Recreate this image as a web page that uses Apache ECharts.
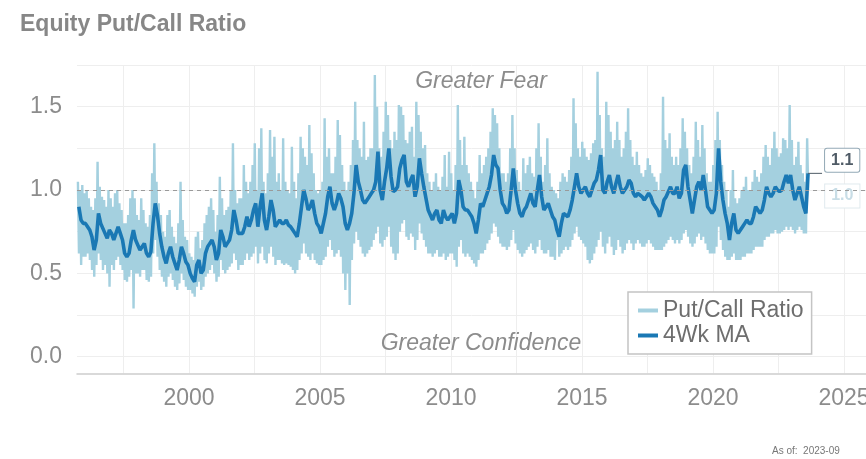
<!DOCTYPE html>
<html><head><meta charset="utf-8">
<script src="https://cdn.jsdelivr.net/npm/echarts@6/dist/echarts.min.js"></script>
<style>html,body{margin:0;padding:0;background:#fff}#c{width:866px;height:459px}</style>
</head><body><div id="c"></div>
<script>
// monthly series, starting Oct 1995
const startYear = 1995, startMonth = 10;
const ratioHigh = [
1.05,1.00,1.03,
0.98,1.00,0.95,0.90,0.88,0.95,1.17,1.02,0.96,0.94,0.90,1.00,
0.95,0.90,0.98,1.00,0.92,0.88,0.80,0.80,0.85,0.95,1.00,0.95,
0.85,0.82,0.95,0.88,0.80,0.78,0.85,1.10,1.28,1.05,0.92,0.85,
0.75,0.72,0.85,0.88,0.78,0.72,0.68,0.80,1.05,0.82,0.72,0.70,
0.62,0.60,0.58,0.72,0.75,0.65,0.70,0.80,0.85,0.90,0.95,0.88,
0.75,0.85,1.08,0.95,0.85,0.88,0.90,1.00,1.28,1.00,0.92,0.95,
0.95,1.15,1.05,0.98,1.05,1.15,1.28,1.00,1.25,1.37,1.05,0.98,
1.10,1.36,1.20,1.32,1.05,1.10,1.00,1.31,1.05,1.00,0.98,1.26,
1.05,0.95,1.10,1.32,1.25,1.20,1.15,1.39,1.22,1.10,1.00,0.98,
1.00,1.05,1.43,1.20,1.25,1.10,1.10,1.20,1.42,1.33,1.15,1.05,
1.00,1.05,1.15,1.30,1.53,1.30,1.25,1.20,1.41,1.18,1.20,1.25,
1.25,1.69,1.50,1.25,1.20,1.35,1.53,1.45,1.30,1.25,1.35,1.30,
1.51,1.50,1.45,1.30,1.28,1.35,1.38,1.20,1.53,1.45,1.35,1.25,
1.27,1.10,1.05,1.00,1.05,1.10,1.02,1.00,1.08,1.21,1.02,1.23,
1.10,1.00,1.15,1.51,1.30,1.15,1.32,1.15,1.10,1.05,1.00,0.95,
1.05,1.21,1.10,1.15,1.20,1.25,1.35,1.49,1.45,1.40,1.25,1.10,
1.10,1.05,1.10,1.25,1.45,1.25,1.12,1.05,1.00,1.19,1.10,1.15,
1.20,1.10,1.08,1.25,1.40,1.20,1.05,1.15,1.31,1.10,1.02,1.00,
0.98,0.95,1.05,1.10,1.08,1.05,1.12,1.20,1.55,1.40,1.25,1.20,
1.29,1.25,1.20,1.18,1.22,1.28,1.30,1.71,1.45,1.25,1.20,1.53,
1.45,1.35,1.25,1.30,1.41,1.30,1.20,1.25,1.35,1.49,1.30,1.20,
1.15,1.23,1.15,1.10,1.08,1.12,1.19,1.15,1.10,1.08,1.05,1.00,
1.10,1.56,1.30,1.25,1.34,1.20,1.15,1.20,1.15,1.25,1.43,1.35,
1.25,1.15,1.10,1.20,1.41,1.30,1.20,1.39,1.25,1.10,1.05,1.05,
1.15,1.30,1.47,1.30,1.15,1.05,1.00,0.90,1.00,1.12,0.95,0.92,
0.95,1.00,1.02,1.08,1.00,1.00,1.05,1.12,1.08,1.05,1.10,1.20,
1.27,1.20,1.15,1.25,1.35,1.25,1.20,1.22,1.31,1.30,1.25,1.51,
1.30,1.15,1.20,1.29,1.15,1.10,1.05,1.31
];
const ratioLow = [
0.62,0.55,0.60,
0.60,0.62,0.58,0.52,0.48,0.55,0.62,0.58,0.52,0.55,0.50,0.42,
0.55,0.52,0.58,0.60,0.55,0.52,0.46,0.45,0.48,0.52,0.29,0.50,
0.50,0.48,0.52,0.52,0.46,0.45,0.48,0.62,0.70,0.60,0.52,0.48,
0.45,0.42,0.48,0.50,0.46,0.42,0.40,0.44,0.50,0.46,0.42,0.40,
0.40,0.38,0.36,0.42,0.45,0.40,0.42,0.48,0.50,0.52,0.55,0.50,
0.45,0.48,0.58,0.52,0.50,0.52,0.54,0.56,0.62,0.58,0.52,0.55,
0.55,0.58,0.62,0.58,0.60,0.62,0.66,0.56,0.62,0.66,0.58,0.56,
0.62,0.66,0.60,0.55,0.58,0.58,0.56,0.55,0.56,0.55,0.54,0.52,
0.50,0.52,0.58,0.62,0.68,0.62,0.60,0.58,0.62,0.58,0.56,0.55,
0.55,0.58,0.60,0.66,0.70,0.64,0.60,0.62,0.64,0.60,0.50,0.40,
0.50,0.31,0.58,0.68,0.75,0.70,0.66,0.62,0.60,0.62,0.64,0.66,
0.70,0.74,0.78,0.68,0.66,0.70,0.72,0.78,0.66,0.62,0.58,0.62,
0.75,0.80,0.82,0.72,0.70,0.74,0.72,0.64,0.70,0.80,0.74,0.70,
0.66,0.62,0.62,0.60,0.62,0.64,0.60,0.60,0.62,0.58,0.60,0.62,
0.62,0.58,0.54,0.66,0.70,0.62,0.60,0.62,0.60,0.58,0.56,0.54,
0.58,0.62,0.62,0.64,0.68,0.70,0.74,0.80,0.78,0.72,0.68,0.66,
0.66,0.64,0.66,0.70,0.76,0.68,0.64,0.62,0.60,0.62,0.64,0.66,
0.68,0.64,0.62,0.66,0.70,0.64,0.62,0.62,0.64,0.60,0.60,0.58,
0.70,0.60,0.62,0.64,0.66,0.64,0.66,0.70,0.74,0.78,0.72,0.70,
0.68,0.66,0.58,0.56,0.58,0.62,0.66,0.70,0.75,0.66,0.62,0.68,
0.72,0.66,0.61,0.64,0.70,0.66,0.62,0.64,0.68,0.70,0.68,0.64,
0.68,0.70,0.68,0.66,0.66,0.68,0.70,0.68,0.66,0.64,0.64,0.64,
0.64,0.66,0.68,0.70,0.72,0.70,0.68,0.70,0.68,0.70,0.74,0.76,
0.72,0.68,0.66,0.68,0.72,0.74,0.70,0.72,0.68,0.64,0.62,0.62,
0.62,0.66,0.78,0.70,0.64,0.60,0.58,0.58,0.60,0.62,0.58,0.58,
0.58,0.60,0.60,0.62,0.62,0.62,0.64,0.66,0.66,0.66,0.66,0.70,
0.72,0.72,0.74,0.74,0.76,0.74,0.74,0.75,0.76,0.78,0.76,0.78,
0.76,0.74,0.76,0.78,0.76,0.74,0.74,1.00
];
const ma4wk = [
0.90,0.82,0.80,
0.80,0.78,0.76,0.72,0.64,0.70,0.86,0.80,0.77,0.74,0.71,0.76,
0.74,0.70,0.74,0.78,0.74,0.70,0.62,0.60,0.62,0.70,0.76,0.70,
0.67,0.64,0.66,0.68,0.62,0.60,0.63,0.80,0.92,0.85,0.74,0.66,
0.60,0.56,0.62,0.66,0.60,0.56,0.52,0.58,0.66,0.62,0.57,0.55,
0.50,0.47,0.45,0.55,0.58,0.50,0.52,0.62,0.66,0.68,0.70,0.66,
0.58,0.62,0.76,0.72,0.66,0.68,0.70,0.76,0.88,0.82,0.74,0.74,
0.74,0.78,0.84,0.78,0.82,0.88,0.92,0.78,0.90,0.98,0.82,0.76,
0.84,0.94,0.88,0.78,0.80,0.82,0.80,0.80,0.82,0.79,0.78,0.76,
0.74,0.72,0.80,0.90,1.00,0.95,0.88,0.90,0.94,0.86,0.80,0.78,
0.74,0.80,0.86,0.96,1.02,0.92,0.88,0.92,0.98,0.95,0.90,0.80,
0.76,0.80,0.86,0.98,1.15,1.05,1.00,0.94,0.92,0.94,0.96,0.98,
1.00,1.05,1.23,1.00,0.94,1.05,1.13,1.25,1.08,0.99,1.00,1.02,
1.13,1.18,1.21,1.05,1.02,1.06,1.09,0.96,1.02,1.19,1.10,1.02,
0.95,0.88,0.85,0.82,0.86,0.88,0.82,0.80,0.88,0.84,0.82,0.84,
0.86,0.80,0.86,1.06,1.00,0.90,0.88,0.88,0.86,0.84,0.80,0.74,
0.82,0.92,0.90,0.94,0.98,1.02,1.09,1.21,1.15,1.13,1.00,0.92,
0.90,0.86,0.88,1.00,1.13,1.00,0.92,0.86,0.84,0.88,0.90,0.94,
0.98,0.92,0.90,1.00,1.09,0.96,0.88,0.90,0.92,0.88,0.84,0.82,
0.76,0.72,0.80,0.86,0.85,0.84,0.88,0.94,1.02,1.10,1.02,0.98,
1.00,1.02,0.98,0.96,1.00,1.04,1.06,1.12,1.21,1.00,0.98,1.05,
1.09,1.02,0.98,1.04,1.09,1.02,0.98,1.00,1.02,1.06,1.04,0.98,
0.96,0.98,0.97,0.96,0.94,0.96,0.98,0.96,0.92,0.90,0.88,0.84,
0.88,0.94,0.96,0.99,1.02,0.98,0.98,1.02,0.95,0.98,1.12,1.15,
1.02,0.94,0.86,0.94,1.02,1.05,1.00,1.09,1.00,0.90,0.88,0.86,
0.88,0.98,1.25,1.05,0.94,0.86,0.80,0.70,0.80,0.86,0.76,0.74,
0.76,0.78,0.80,0.82,0.80,0.80,0.84,0.90,0.88,0.86,0.88,0.94,
1.02,0.98,0.96,0.98,1.02,1.00,0.99,1.00,1.05,1.09,1.04,1.09,
1.00,0.94,0.98,1.02,0.96,0.90,0.86,1.10
];
const yLabelValues = [0, 0.5, 1, 1.5];
const yGridValues = [0, 0.25, 0.5, 0.75, 1, 1.25, 1.5, 1.75];
const xLabelValues = [2000, 2005, 2010, 2015, 2020, 2025];
const xGridValues = [1997.5, 2000, 2002.5, 2005, 2007.5, 2010, 2012.5, 2015, 2017.5, 2020, 2022.5, 2025];
const seriesNames = ['Put/Call Ratio', '4Wk MA'];
const referenceLevel = 1.0;

function monthX(i) { return startYear + (startMonth - 1 + i) / 12; }
const ratioData = [];
ratioHigh.forEach((h, i) => { const t = monthX(i); ratioData.push([t + 0.01, h], [t + 0.05, ratioLow[i]]); });
const maData = ma4wk.map((v, i) => [monthX(i) + 0.045, v]);

const FONT = '"Liberation Sans", Arial, Helvetica, sans-serif';
const chart = echarts.init(document.getElementById('c'), null, { renderer: 'canvas' });
chart.setOption({
  animation: false,
  backgroundColor: '#fff',
  textStyle: { fontFamily: FONT },
  title: { text: 'Equity Put/Call Ratio', left: 15, top: 8,
    textStyle: { fontSize: 23, fontWeight: 'bold', color: '#878787', fontFamily: FONT } },
  grid: { left: 77, right: 0, top: 65, bottom: 85.6, containLabel: false, outerBoundsMode: 'none' },
  xAxis: {
    type: 'value', min: 1995.725, max: 2025.84,
    axisLine: { show: true, onZero: false, lineStyle: { color: '#cdcdcd', width: 1.5 } },
    axisTick: { show: false, customValues: xGridValues },
    axisLabel: { customValues: xLabelValues, fontSize: 23, color: '#8c8c8c', margin: 14,
      formatter: v => String(Math.round(v)) },
    splitLine: { show: true, lineStyle: { color: '#eeeeee', width: 1 } }
  },
  yAxis: {
    type: 'value', min: -0.1, max: 1.75,
    axisLine: { show: false },
    axisTick: { show: false, customValues: yGridValues },
    axisLabel: { customValues: yLabelValues, fontSize: 23, color: '#8c8c8c', margin: 15,
      formatter: v => v.toFixed(1) },
    splitLine: { show: true, lineStyle: { color: '#eeeeee', width: 1 } }
  },
  legend: {
    orient: 'vertical', left: 628, top: 292, padding: [7, 8, 7, 10], itemGap: 2,
    itemWidth: 20, itemHeight: 4, icon: 'rect',
    backgroundColor: '#fff', borderColor: '#c4c4c4', borderWidth: 1.5,
    textStyle: { fontSize: 23, color: '#6e6e6e', fontFamily: FONT },
    data: seriesNames
  },
  series: [
    {
      name: seriesNames[0], type: 'line', data: ratioData, showSymbol: false, z: 2,
      color: '#a4d0df',
      lineStyle: { color: '#a4d0df', width: 2.4 },
      markLine: { silent: true, symbol: 'none', label: { show: false },
        lineStyle: { type: [4, 4], color: '#9a9a9a', width: 1 },
        data: [{ yAxis: referenceLevel }] },
      endLabel: { show: true, formatter: p => p.value[1].toFixed(1), color: '#c8dde6',
        fontWeight: 'bold', fontSize: 16, fontFamily: FONT, backgroundColor: '#fff',
        borderColor: '#e0eaee', borderWidth: 1, padding: [4, 6, 3, 6], offset: [9, 6] }
    },
    {
      name: seriesNames[1], type: 'line', data: maData, showSymbol: false, z: 3,
      color: '#1a78b4',
      lineStyle: { color: '#1a78b4', width: 3.6 },
      endLabel: { show: true, formatter: p => p.value[1].toFixed(1), color: '#4f5b66',
        fontWeight: 'bold', fontSize: 16, fontFamily: FONT, backgroundColor: '#fff',
        borderColor: '#93a9b6', borderWidth: 1, borderRadius: 2, padding: [4, 6, 3, 6], offset: [9, -13] }
    }
  ]
});
const endPt = chart.convertToPixel({ gridIndex: 0 }, maData[maData.length - 1]);
chart.setOption({
  graphic: [
    { type: 'line', z: 10, shape: { x1: endPt[0], y1: endPt[1], x2: endPt[0] + 14, y2: endPt[1] },
      style: { stroke: '#4f5b66', lineWidth: 1 } },
    { type: 'text', z: 10, x: 481, y: 82,
      style: { text: 'Greater Fear', font: 'italic 23px ' + FONT, fill: '#8c8c8c', align: 'center', verticalAlign: 'middle' } },
    { type: 'text', z: 10, x: 481, y: 344,
      style: { text: 'Greater Confidence', font: 'italic 23px ' + FONT, fill: '#8c8c8c', align: 'center', verticalAlign: 'middle' } },
    { type: 'text', z: 10, x: 772, y: 451,
      style: { text: 'As of:  2023-09', font: '10px ' + FONT, fill: '#777', align: 'left', verticalAlign: 'middle' } }
  ]
});
</script></body></html>
